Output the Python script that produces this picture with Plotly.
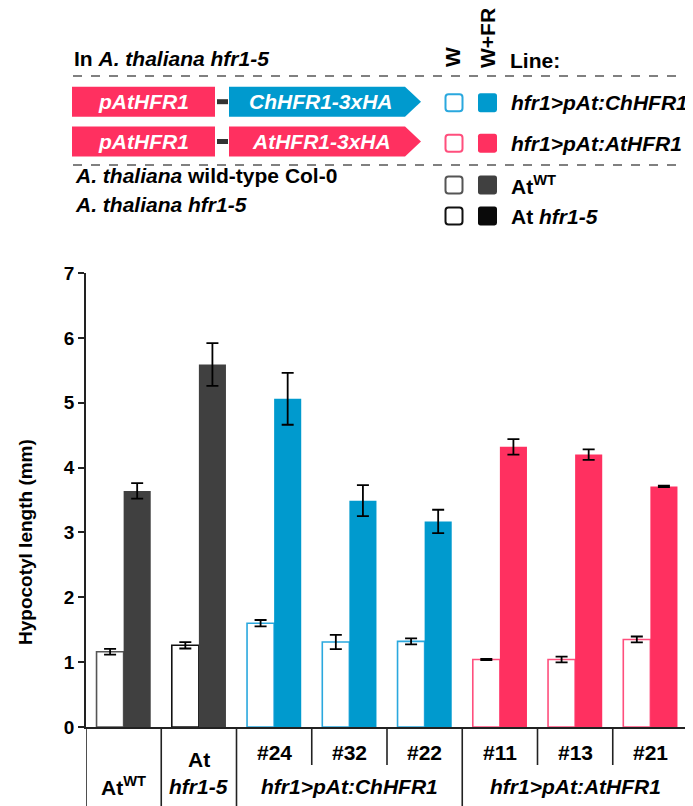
import plotly.graph_objects as go

# ---------------- data ----------------
categories = ["AtWT", "At hfr1-5", "#24", "#32", "#22", "#11", "#13", "#21"]
w_mean = [1.16, 1.26, 1.60, 1.31, 1.32, 1.04, 1.04, 1.35]
w_err = [0.045, 0.05, 0.05, 0.11, 0.045, 0.01, 0.045, 0.045]
wfr_mean = [3.64, 5.59, 5.06, 3.49, 3.17, 4.32, 4.20, 3.71]
wfr_err = [0.12, 0.33, 0.40, 0.24, 0.18, 0.12, 0.08, 0.01]

line_names = ["hfr1&gt;pAt:ChHFR1", "hfr1&gt;pAt:AtHFR1"]
sub_labels = ["#24", "#32", "#22", "#11", "#13", "#21"]
y_ticks = [0, 1, 2, 3, 4, 5, 6, 7]

# ---------------- styles ----------------
BLUE = "#009ACE"
PINK = "#FF3060"
DARK = "#404040"
BLUE_L = "#2AA8DE"
PINK_L = "#FF4F7D"
w_outline = ["#555555", "#111111", BLUE_L, BLUE_L, BLUE_L, PINK_L, PINK_L, PINK_L]
wfr_fill = [DARK, DARK, BLUE, BLUE, BLUE, PINK, PINK, PINK]
FONT = "Liberation Sans, Arial, sans-serif"

OFF = 8  # page body margin in the browser
W, H = 693 - OFF, 806 - OFF
L, R, T, B = 86 - OFF, 688 - OFF, 273 - OFF, 727 - OFF


def px(x):
    return (x - OFF - L) / (R - L)


def py(y):
    return (B - (y - OFF)) / (B - T)


fig = go.Figure()
fig.add_trace(go.Bar(
    x=categories, y=w_mean, name="W",
    marker=dict(color="white", line=dict(color=w_outline, width=1.6)),
    error_y=dict(type="data", array=w_err, color="black", thickness=1.8, width=6),
))
fig.add_trace(go.Bar(
    x=categories, y=wfr_mean, name="W+FR",
    marker=dict(color=wfr_fill, line=dict(width=0)),
    error_y=dict(type="data", array=wfr_err, color="black", thickness=1.8, width=6),
))

shapes = []
ann = []


def note(x, y, text, xref="paper", anchor="center", font=None, angle=0):
    ann.append(dict(x=x, y=y, xref=xref, yref="paper", text=text, showarrow=False,
                    xanchor=anchor, yanchor="middle", textangle=angle,
                    font=font))


def rounded(x0, x1, y0, y1, r):
    # pixel box -> rounded-corner path in paper coordinates
    def P(x, y):
        return "{:.5f},{:.5f}".format(px(x), py(y))
    return ("M " + P(x0 + r, y0) + " L " + P(x1 - r, y0) + " Q " + P(x1, y0) + " " + P(x1, y0 + r) +
            " L " + P(x1, y1 - r) + " Q " + P(x1, y1) + " " + P(x1 - r, y1) +
            " L " + P(x0 + r, y1) + " Q " + P(x0, y1) + " " + P(x0, y1 - r) +
            " L " + P(x0, y0 + r) + " Q " + P(x0, y0) + " " + P(x0 + r, y0) + " Z")


# ---- bottom category box ----
long_b = [-0.5, 0.5, 1.5, 4.5, 7.5]
short_b = [2.5, 3.5, 5.5, 6.5]
for xb in long_b:
    shapes.append(dict(type="line", xref="x", yref="paper", x0=xb, x1=xb,
                       y0=0, y1=py(806), line=dict(color="#222", width=1.6)))
for xb in short_b:
    shapes.append(dict(type="line", xref="x", yref="paper", x0=xb, x1=xb,
                       y0=0, y1=py(765), line=dict(color="#222", width=1.6)))

bold = dict(family=FONT, size=21, color="black", weight="bold")
white = dict(family=FONT, size=21, color="white", weight="bold")

note(0, py(786), "At<sup>WT</sup>", xref="x", font=bold)
note(1, py(759), "At", xref="x", font=bold)
note(1, py(786), "<i>hfr1-5</i>", xref="x", font=bold)
for i, lab in enumerate(sub_labels):
    note(i + 2, py(752), lab, xref="x", font=bold)
note(3, py(786), "<i>" + line_names[0] + "</i>", xref="x", font=bold)
note(6, py(786), "<i>" + line_names[1] + "</i>", xref="x", font=bold)

# ---- y axis title ----
note(px(25), py(542), "Hypocotyl length (mm)", angle=-90,
     font=dict(family=FONT, size=19, color="black", weight="bold"))

# ---- top legend / construct panel ----
note(px(72), py(58), "In <i>A. thaliana hfr1-5</i>", anchor="left", font=bold)
note(px(452), py(57), "W", angle=-90, font=bold)
note(px(487), py(38), "W+FR", angle=-90, font=bold)
note(px(508), py(60), "Line:", anchor="left", font=bold)

for yd in (76, 165):
    shapes.append(dict(type="line", xref="paper", yref="paper", x0=px(73), x1=px(693),
                       y0=py(yd), y1=py(yd), line=dict(color="#808080", width=2, dash="dash")))

rows = [(101.7, BLUE, "ChHFR1-3xHA"), (141.5, PINK, "AtHFR1-3xHA")]
for yc, col, lab in rows:
    y0, y1 = yc - 15, yc + 15
    shapes.append(dict(type="rect", xref="paper", yref="paper", x0=px(72), x1=px(215),
                       y0=py(y1), y1=py(y0), fillcolor=PINK, line=dict(width=0)))
    shapes.append(dict(type="line", xref="paper", yref="paper", x0=px(217), x1=px(228),
                       y0=py(yc), y1=py(yc), line=dict(color="#333", width=5)))
    path = "M {a},{b} L {c},{b} L {d},{m} L {c},{e} L {a},{e} Z".format(
        a=px(229), c=px(405), d=px(421), b=py(y0), e=py(y1), m=py(yc))
    shapes.append(dict(type="path", xref="paper", yref="paper", path=path,
                       fillcolor=col, line=dict(width=0)))
    note(px(143), py(yc), "<i>pAtHFR1</i>", font=white)
    note(px(321), py(yc), "<i>" + lab + "</i>", font=white)

leg_rows = [
    (102.7, BLUE_L, BLUE, "<i>" + line_names[0] + "</i>"),
    (143.3, PINK_L, PINK, "<i>" + line_names[1] + "</i>"),
    (185, "#555555", DARK, "At<sup>WT</sup>"),
    (216, "#111111", "#0a0a0a", "At <i>hfr1-5</i>"),
]
for yc, lc, fc, lab in leg_rows:
    shapes.append(dict(type="path", xref="paper", yref="paper",
                       path=rounded(445.5, 462.5, yc - 8.5, yc + 8.5, 3),
                       fillcolor="white", line=dict(color=lc, width=2)))
    shapes.append(dict(type="path", xref="paper", yref="paper",
                       path=rounded(478, 497, yc - 9.5, yc + 9.5, 2.5),
                       fillcolor=fc, line=dict(width=0)))
    note(px(509), py(yc), lab, anchor="left", font=bold)

note(px(73), py(175), "<i>A. thaliana</i> wild-type Col-0", anchor="left", font=bold)
note(px(73), py(204), "<i>A. thaliana hfr1-5</i>", anchor="left", font=bold)

fig.update_layout(
    width=W, height=H,
    margin=dict(l=L, r=W - R, t=T, b=H - B, pad=0),
    barmode="group", bargap=0.28, bargroupgap=0,
    showlegend=False,
    plot_bgcolor="white", paper_bgcolor="white",
    font=dict(family=FONT, color="black"),
    shapes=shapes, annotations=ann,
    xaxis=dict(range=[-0.5, 7.5], showticklabels=False, ticks="", showgrid=False,
               showline=True, linecolor="#222", linewidth=1.6, zeroline=False, fixedrange=True),
    yaxis=dict(range=[0, 7], tickvals=y_ticks, ticks="outside", ticklen=6, tickwidth=1.6,
               tickcolor="#222", showline=True, linecolor="#222", linewidth=1.6,
               showgrid=False, zeroline=False,
               tickfont=dict(family=FONT, size=19, color="black", weight="bold")),
)

fig.write_html("out.html")
